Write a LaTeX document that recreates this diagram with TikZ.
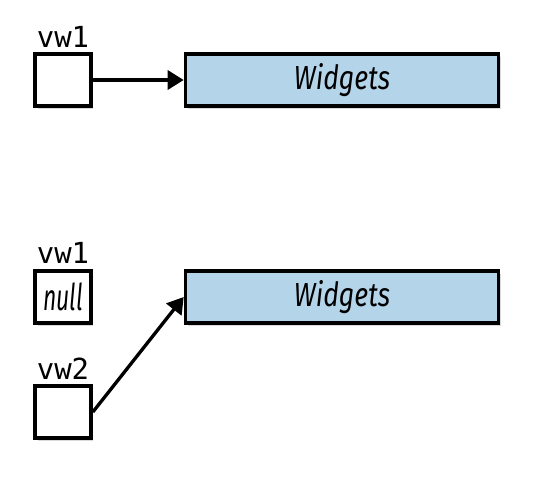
\documentclass[tikz,border=0pt]{standalone}
\usepackage{fontspec}
\setmainfont{Fira Sans}
\newfontfamily\monofont{DejaVu Sans Mono}
\newfontfamily\condfont[FakeStretch=0.8]{Fira Sans}
\newfontfamily\narrowfont[FakeStretch=0.62]{Fira Sans}
\usepackage{tikz}
\usetikzlibrary{arrows.meta,shadows,positioning}
\definecolor{objblue}{RGB}{180,212,234}

\begin{document}
\begin{tikzpicture}[x=0.02cm,y=-0.02cm,
		refbox/.style={draw,line width=2.1pt,fill=white,inner sep=0pt,
			minimum width=1.12cm,minimum height=1.04cm,
			drop shadow={shadow xshift=0.05cm,shadow yshift=-0.05cm,opacity=0.3}},
		objbox/.style={refbox,fill=objblue,minimum width=6.26cm,
			font=\condfont\itshape\fontsize{19}{21}\selectfont},
		varname/.style={font=\monofont\fontsize{16.5}{18}\selectfont},
		pointer/.style={line width=1.9pt,-{Triangle[length=0.32cm,width=0.38cm]}}]
		% Cadre
		\useasboundingbox (0,0) rectangle (550,478);
		
		% Etat initial
		\node[varname] (nameA) at (63,37) {vw1};
		\node[refbox] (refA) at (63,80) {};
		\node[objbox] (objA) at (342,80) {Widgets};
		\draw[pointer] (refA.east) -- (objA.west);
		
		% Apres affectation
		\node[varname] (nameB) at (63,253) {vw1};
		\node[refbox,font=\narrowfont\itshape\fontsize{21}{23}\selectfont] (refB) at (63,297) {null};
		\node[objbox] (objB) at (342,297) {Widgets};
		\node[varname] (nameC) at (63,369) {vw2};
		\node[refbox] (refC) at (63,412) {};
		\draw[pointer] (refC.east) -- (objB.west);
	\end{tikzpicture}
\end{document}
